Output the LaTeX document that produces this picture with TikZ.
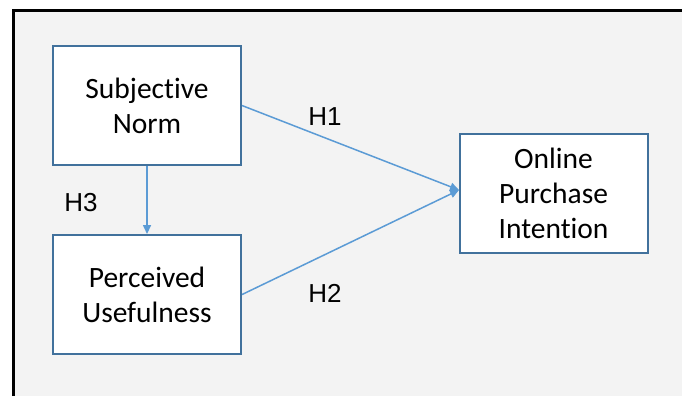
\documentclass[tikz,border=0pt]{standalone}
\usepackage{fontspec}
\setmainfont{Carlito}[Ligatures=NoCommon]
\newfontfamily\hfont{Liberation Sans}
\usetikzlibrary{arrows.meta,shapes}
\pgfdeclarelayer{bglayer}
\pgfdeclarelayer{edgelayer}
\pgfdeclarelayer{nodelayer}
\pgfsetlayers{bglayer,edgelayer,nodelayer,main}
\definecolor{boxblue}{HTML}{41719C}
\definecolor{arrblue}{HTML}{5B9BD5}
\definecolor{bggray}{HTML}{F3F3F3}
\tikzset{font=\fontsize{29.5}{35}\selectfont}
\tikzstyle{box}=[rectangle,draw=boxblue,fill=white,line width=2pt,minimum width=188pt,minimum height=119pt,align=center,inner sep=0pt]
\tikzstyle{hyp}=[inner sep=0pt,font=\hfont\fontsize{26}{30}\selectfont]
\tikzstyle{none}=[inner sep=0pt]
\tikzstyle{link}=[draw=arrblue,line width=1.5pt,-{Triangle[length=9pt,width=8pt]}]

\begin{document}
\begin{tikzpicture}
	\useasboundingbox (0, 0) rectangle (23.97, 13.92);
	\begin{pgfonlayer}{bglayer}
		\fill [bggray] (0.457, 0) rectangle (23.97, 13.568);
		\draw [line width=3pt] (0.457, 0) -- (0.457, 13.568) -- (23.97, 13.568);
	\end{pgfonlayer}
	\begin{pgfonlayer}{nodelayer}
		\node [style=box] (0) at (5.167, 10.211) {Subjective\\Norm};
		\node [style=box] (1) at (5.167, 3.568) {Perceived\\Usefulness};
		\node [style=box] (2) at (19.456, 7.135) {Online\\Purchase\\Intention};
		\node [style=hyp] (3) at (11.424, 9.807) {H1};
		\node [style=hyp] (4) at (11.424, 3.620) {H2};
		\node [style=hyp] (5) at (2.847, 6.784) {H3};
		\coordinate (6) at (16.134, 7.241);
	\end{pgfonlayer}
	\begin{pgfonlayer}{edgelayer}
		\draw [style=link] (0.east) to (6);
		\draw [style=link] (1.east) to (6);
		\draw [style=link] (0.south) to (1.north);
	\end{pgfonlayer}
\end{tikzpicture}
\end{document}
